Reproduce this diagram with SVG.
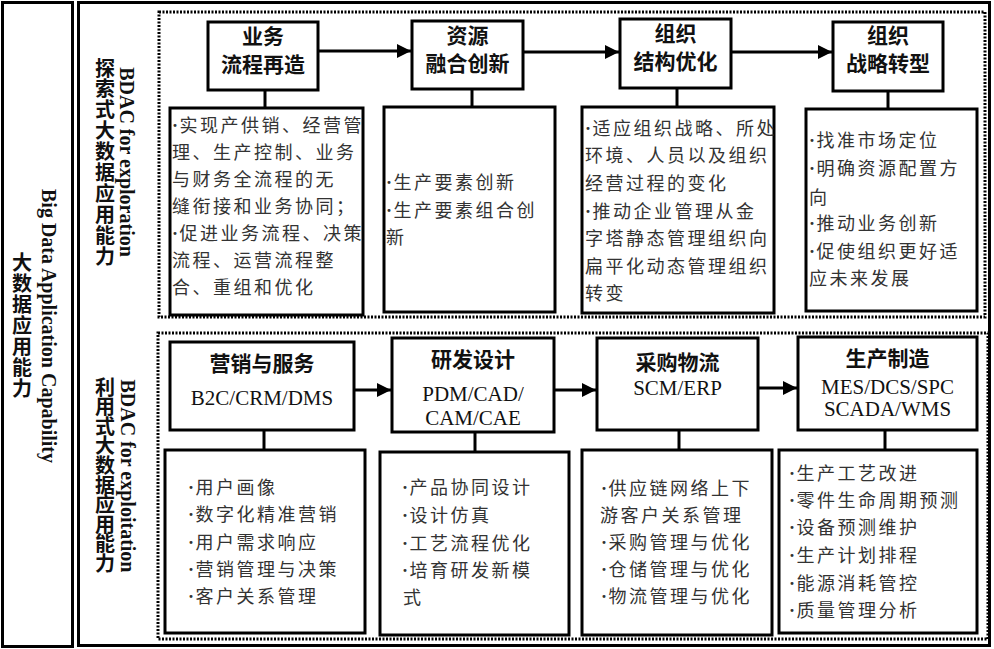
<svg xmlns="http://www.w3.org/2000/svg" width="994" height="649" viewBox="0 0 994 649">
<style>
.frame{fill:none;stroke:#000;stroke-width:3}
.dot{fill:none;stroke:#000;stroke-width:3;stroke-dasharray:2 1.5}
.box{fill:#fff;stroke:#000;stroke-width:3}
.h{font-family:"Noto Sans CJK SC",sans-serif;font-weight:700;font-size:21px;text-anchor:middle;fill:#111}
.en{font-family:"Liberation Serif",serif;font-size:21px;text-anchor:middle;fill:#111}
.t{font-family:"Noto Sans CJK SC",sans-serif;font-size:18px;fill:#333;letter-spacing:2.5px}
.b{font-family:"Liberation Serif",serif;font-weight:700;letter-spacing:1.5px}
.vz{font-family:"Noto Sans CJK SC",sans-serif;font-weight:700;font-size:20px;fill:#111;writing-mode:vertical-rl}
.ve{font-family:"Liberation Serif",serif;font-weight:700;font-size:20px;text-anchor:middle;fill:#111}
.conn{stroke:#000;stroke-width:3;fill:none}
</style>
<defs>
<marker id="arr" markerUnits="userSpaceOnUse" markerWidth="14" markerHeight="14" refX="14" refY="7" orient="auto">
<path d="M0,0 L14,7 L0,14 z" fill="#000"/>
</marker>
</defs>
<rect width="994" height="649" fill="#fff"/>

<g id="frames">
<rect class="frame" x="2.5" y="2.5" width="70" height="644"/>
<rect class="frame" x="78.5" y="2.5" width="911" height="643"/>
<rect class="dot" x="159" y="12" width="826" height="305"/>
<rect class="dot" x="158" y="333" width="830" height="306"/>
</g>

<g id="side-labels">
<text class="ve" transform="translate(42,326) rotate(90)">Big Data Application Capability</text>
<text class="vz" x="22" y="252" style="letter-spacing:1px">大数据应用能力</text>
<text class="ve" transform="translate(120,162) rotate(90)">BDAC for exploration</text>
<text class="vz" x="105" y="58" style="letter-spacing:0.9px">探索式大数据应用能力</text>
<text class="ve" transform="translate(121,476) rotate(90)">BDAC for exploitation</text>
<text class="vz" x="105" y="377" style="letter-spacing:-0.4px">利用式大数据应用能力</text>
</g>

<g id="connectors">
<line class="conn" x1="318" y1="51" x2="411" y2="51" marker-end="url(#arr)"/>
<line class="conn" x1="523" y1="52" x2="619" y2="52" marker-end="url(#arr)"/>
<line class="conn" x1="731" y1="52" x2="832" y2="52" marker-end="url(#arr)"/>
<line class="conn" x1="354" y1="390" x2="391" y2="390" marker-end="url(#arr)"/>
<line class="conn" x1="554" y1="390" x2="596" y2="390" marker-end="url(#arr)"/>
<line class="conn" x1="758" y1="388" x2="797" y2="388" marker-end="url(#arr)"/>
<line class="conn" x1="265" y1="90" x2="265" y2="108"/>
<line class="conn" x1="472" y1="89" x2="472" y2="107"/>
<line class="conn" x1="677" y1="88" x2="677" y2="107"/>
<line class="conn" x1="888" y1="91" x2="888" y2="109"/>
<line class="conn" x1="264" y1="430" x2="264" y2="450"/>
<line class="conn" x1="475" y1="432" x2="475" y2="452"/>
<line class="conn" x1="679" y1="430" x2="679" y2="450"/>
<line class="conn" x1="885" y1="430" x2="885" y2="450"/>
</g>

<g id="n1">
<rect class="box" x="208" y="22" width="110" height="68"/>
<text class="h" x="263" y="43.5">业务<tspan x="263" dy="28">流程再造</tspan></text>
</g>
<g id="n2">
<rect class="box" x="412" y="21" width="111" height="68"/>
<text class="h" x="467.5" y="43">资源<tspan x="467.5" dy="28">融合创新</tspan></text>
</g>
<g id="n3">
<rect class="box" x="620" y="19" width="111" height="69"/>
<text class="h" x="675.5" y="40.5">组织<tspan x="675.5" dy="28">结构优化</tspan></text>
</g>
<g id="n4">
<rect class="box" x="833" y="22" width="110" height="69"/>
<text class="h" x="888" y="42.5">组织<tspan x="888" dy="28">战略转型</tspan></text>
</g>

<g id="d1">
<rect class="box" x="170" y="108" width="193" height="207"/>
<text class="t" x="172" y="132"><tspan class="b">·</tspan>实现产供销、经营管</text>
<text class="t" x="172" y="159">理、生产控制、业务</text>
<text class="t" x="172" y="186">与财务全流程的无</text>
<text class="t" x="172" y="213">缝衔接和业务协同；</text>
<text class="t" x="172" y="240"><tspan class="b">·</tspan>促进业务流程、决策</text>
<text class="t" x="172" y="267">流程、运营流程整</text>
<text class="t" x="172" y="294">合、重组和优化</text>
</g>
<g id="d2">
<rect class="box" x="384" y="107" width="171" height="205"/>
<text class="t" x="386" y="189"><tspan class="b">·</tspan>生产要素创新</text>
<text class="t" x="386" y="217"><tspan class="b">·</tspan>生产要素组合创</text>
<text class="t" x="386" y="244">新</text>
</g>
<g id="d3">
<rect class="box" x="582" y="107" width="192" height="206"/>
<text class="t" x="585" y="135"><tspan class="b">·</tspan>适应组织战略、所处</text>
<text class="t" x="585" y="162">环境、人员以及组织</text>
<text class="t" x="585" y="190">经营过程的变化</text>
<text class="t" x="585" y="218"><tspan class="b">·</tspan>推动企业管理从金</text>
<text class="t" x="585" y="245">字塔静态管理组织向</text>
<text class="t" x="585" y="273">扁平化动态管理组织</text>
<text class="t" x="585" y="300">转变</text>
</g>
<g id="d4">
<rect class="box" x="806" y="109" width="171" height="202"/>
<text class="t" x="809" y="147"><tspan class="b">·</tspan>找准市场定位</text>
<text class="t" x="809" y="175"><tspan class="b">·</tspan>明确资源配置方</text>
<text class="t" x="809" y="204">向</text>
<text class="t" x="809" y="230"><tspan class="b">·</tspan>推动业务创新</text>
<text class="t" x="809" y="258"><tspan class="b">·</tspan>促使组织更好适</text>
<text class="t" x="809" y="285">应未来发展</text>
</g>

<g id="n5">
<rect class="box" x="170" y="342" width="184" height="88"/>
<text class="h" x="262" y="371">营销与服务</text>
<text class="en" x="262" y="405">B2C/CRM/DMS</text>
</g>
<g id="n6">
<rect class="box" x="392" y="338" width="162" height="94"/>
<text class="h" x="473" y="367">研发设计</text>
<text class="en" x="473" y="401">PDM/CAD/</text>
<text class="en" x="473" y="425">CAM/CAE</text>
</g>
<g id="n7">
<rect class="box" x="597" y="338" width="161" height="92"/>
<text class="h" x="677.5" y="370">采购物流</text>
<text class="en" x="677.5" y="395">SCM/ERP</text>
</g>
<g id="n8">
<rect class="box" x="798" y="337" width="179" height="93"/>
<text class="h" x="887.5" y="366">生产制造</text>
<text class="en" x="887.5" y="394">MES/DCS/SPC</text>
<text class="en" x="887.5" y="416">SCADA/WMS</text>
</g>

<g id="d5">
<rect class="box" x="165" y="450" width="200" height="183"/>
<text class="t" x="188" y="494"><tspan class="b">·</tspan>用户画像</text>
<text class="t" x="188" y="521"><tspan class="b">·</tspan>数字化精准营销</text>
<text class="t" x="188" y="549"><tspan class="b">·</tspan>用户需求响应</text>
<text class="t" x="188" y="576"><tspan class="b">·</tspan>营销管理与决策</text>
<text class="t" x="188" y="603"><tspan class="b">·</tspan>客户关系管理</text>
</g>
<g id="d6">
<rect class="box" x="380" y="452" width="189" height="183"/>
<text class="t" x="402" y="494"><tspan class="b">·</tspan>产品协同设计</text>
<text class="t" x="402" y="522"><tspan class="b">·</tspan>设计仿真</text>
<text class="t" x="402" y="550"><tspan class="b">·</tspan>工艺流程优化</text>
<text class="t" x="402" y="577"><tspan class="b">·</tspan>培育研发新模</text>
<text class="t" x="403" y="604">式</text>
</g>
<g id="d7">
<rect class="box" x="582" y="450" width="190" height="185"/>
<text class="t" x="601" y="495"><tspan class="b">·</tspan>供应链网络上下</text>
<text class="t" x="600" y="522">游客户关系管理</text>
<text class="t" x="601" y="549"><tspan class="b">·</tspan>采购管理与优化</text>
<text class="t" x="601" y="576"><tspan class="b">·</tspan>仓储管理与优化</text>
<text class="t" x="601" y="603"><tspan class="b">·</tspan>物流管理与优化</text>
</g>
<g id="d8">
<rect class="box" x="779" y="450" width="198" height="183"/>
<text class="t" x="789" y="480"><tspan class="b">·</tspan>生产工艺改进</text>
<text class="t" x="789" y="507"><tspan class="b">·</tspan>零件生命周期预测</text>
<text class="t" x="789" y="534"><tspan class="b">·</tspan>设备预测维护</text>
<text class="t" x="789" y="562"><tspan class="b">·</tspan>生产计划排程</text>
<text class="t" x="789" y="590"><tspan class="b">·</tspan>能源消耗管控</text>
<text class="t" x="789" y="617"><tspan class="b">·</tspan>质量管理分析</text>
</g>
</svg>
